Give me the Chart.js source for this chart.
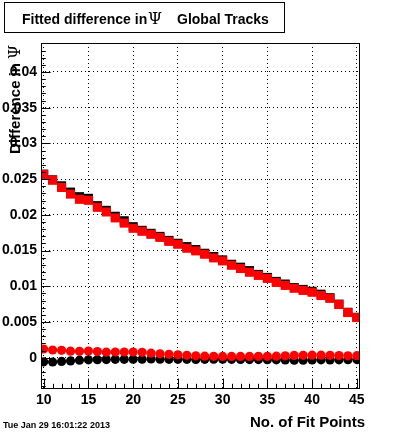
<!DOCTYPE html>
<html>
<head>
<meta charset="utf-8">
<script src="https://cdn.jsdelivr.net/npm/chart.js@4/dist/chart.umd.min.js"></script>
<style>
  html, body { margin: 0; padding: 0; background: #fff; }
  canvas { display: block; }
</style>
</head>
<body>
<canvas id="psiChart" width="400" height="433"></canvas>
<script>
const fitPoints = [10, 11, 12, 13, 14, 15, 16, 17, 18, 19, 20, 21, 22, 23, 24, 25, 26, 27,
                   28, 29, 30, 31, 32, 33, 34, 35, 36, 37, 38, 39, 40, 41, 42, 43, 44, 45];

// black squares
const psiDiffBlack = [0.02570, 0.02490, 0.02406, 0.02318, 0.02254, 0.02231, 0.02128, 0.02063, 0.01980,
                      0.01917, 0.01834, 0.01783, 0.01741, 0.01698, 0.01642, 0.01602, 0.01555, 0.01514,
                      0.01462, 0.01416, 0.01369, 0.01308, 0.01267, 0.01219, 0.01166, 0.01124, 0.01068,
                      0.01031, 0.00982, 0.00956, 0.00930, 0.00889, 0.00840, 0.00750, 0.00636, 0.00566];
// red squares
const psiDiffRed = [0.02565, 0.02485, 0.02383, 0.02290, 0.02217, 0.02203, 0.02105, 0.02040, 0.01957,
                    0.01884, 0.01811, 0.01769, 0.01727, 0.01684, 0.01628, 0.01588, 0.01532, 0.01495,
                    0.01448, 0.01397, 0.01355, 0.01294, 0.01248, 0.01196, 0.01152, 0.01110, 0.01054,
                    0.01012, 0.00972, 0.00942, 0.00916, 0.00870, 0.00831, 0.00744, 0.00632, 0.00562];
// black circles
const psiOffsetBlack = [-0.00058, -0.00060, -0.00052, -0.00045, -0.00035, -0.00030, -0.00028, -0.00026, -0.00022,
                        -0.00022, -0.00020, -0.00020, -0.00018, -0.00020, -0.00022, -0.00022, -0.00022, -0.00024,
                        -0.00022, -0.00020, -0.00020, -0.00022, -0.00024, -0.00026, -0.00026, -0.00028, -0.00030,
                        -0.00032, -0.00034, -0.00034, -0.00032, -0.00030, -0.00032, -0.00030, -0.00028, -0.00026];
// red circles
const psiOffsetRed = [0.00122, 0.00108, 0.00103, 0.00092, 0.00090, 0.00094, 0.00086, 0.00078, 0.00080,
                      0.00080, 0.00080, 0.00076, 0.00064, 0.00054, 0.00048, 0.00040, 0.00034, 0.00026,
                      0.00022, 0.00020, 0.00018, 0.00018, 0.00018, 0.00018, 0.00020, 0.00020, 0.00022,
                      0.00026, 0.00032, 0.00034, 0.00036, 0.00036, 0.00034, 0.00030, 0.00026, 0.00028];

const xTickValues = [10, 15, 20, 25, 30, 35, 40, 45];
const xTickLabels = ['10', '15', '20', '25', '30', '35', '40', '45'];
const yTickValues = [0, 0.005, 0.01, 0.015, 0.02, 0.025, 0.03, 0.035, 0.04];
const yTickLabels = ['0', '0.005', '0.01', '0.015', '0.02', '0.025', '0.03', '0.035', '0.04'];

const titleLeft = 'Fitted difference in';
const titleRight = 'Global Tracks';
const yTitle = 'Difference in';
const xTitle = 'No. of Fit Points';
const dateStamp = 'Tue Jan 29 16:01:22 2013';
const PSI = '\u03A8';

const FONT = '"Liberation Sans", Arial, Helvetica, sans-serif';

function pts(values) {
    return fitPoints.map((x, i) => ({ x: x, y: values[i] }));
}

function markerSet(label, values, color, style, radius) {
    return {
        label: label,
        data: pts(values),
        showLine: false,
        pointStyle: style,
        pointRadius: radius,
        pointHoverRadius: radius,
        pointBorderWidth: 0,
        backgroundColor: color,
        borderColor: color,
        clip: 0
    };
}

// ROOT-like frame, inward ticks, titles and time stamp
const rootDecor = {
    id: 'rootDecor',
    afterDraw(chart) {
        const { ctx, chartArea: a, scales: { x, y } } = chart;
        ctx.save();
        ctx.strokeStyle = '#000';
        ctx.lineWidth = 1;

        ctx.beginPath();
        for (let i = 10; i <= 45; i++) {
            const px = Math.round(x.getPixelForValue(i)) + 0.5;
            const len = i % 5 === 0 ? 10.4 : 5.2;
            ctx.moveTo(px, a.bottom);
            ctx.lineTo(px, a.bottom - len);
        }
        for (let i = -4; i <= 44; i++) {
            const py = Math.round(y.getPixelForValue(i / 1000)) + 0.5;
            const len = i % 5 === 0 ? 9.6 : 4.8;
            ctx.moveTo(a.left, py);
            ctx.lineTo(a.left + len, py);
        }
        ctx.stroke();

        ctx.strokeRect(Math.round(a.left) + 0.5, Math.round(a.top) + 0.5,
                       Math.round(a.right - a.left) - 1, Math.round(a.bottom - a.top) - 1);

        // title box
        ctx.fillStyle = '#fff';
        ctx.fillRect(4.5, 2.5, 280, 30);
        ctx.strokeRect(4.5, 2.5, 280, 30);
        ctx.fillStyle = '#000';
        ctx.textBaseline = 'alphabetic';
        ctx.textAlign = 'left';
        ctx.font = 'bold 14px ' + FONT;
        ctx.fillText(titleLeft, 22, 24);
        ctx.fillText(titleRight, 177, 24);
        ctx.font = '16px "DejaVu Serif", serif';
        ctx.textAlign = 'center';
        ctx.fillText(PSI, 155, 24);

        // y axis title
        ctx.save();
        ctx.translate(20, 45);
        ctx.rotate(-Math.PI / 2);
        ctx.textAlign = 'right';
        ctx.font = '16px "DejaVu Serif", serif';
        ctx.fillText(PSI, 0, 0);
        const psiW = ctx.measureText(PSI).width;
        ctx.font = 'bold 15px ' + FONT;
        ctx.fillText(yTitle, -psiW - 4, 0);
        ctx.restore();

        // x axis title
        ctx.textAlign = 'right';
        ctx.font = 'bold 15px ' + FONT;
        ctx.fillText(xTitle, 365, 427);

        // date stamp
        ctx.textAlign = 'left';
        ctx.font = 'bold 9px ' + FONT;
        ctx.fillText(dateStamp, 3, 428);
        ctx.restore();
    }
};

new Chart(document.getElementById('psiChart'), {
    type: 'scatter',
    data: {
        datasets: [
            markerSet('red squares', psiDiffRed, '#ff0000', 'rect', 6.4),
            markerSet('red circles', psiOffsetRed, '#ff0000', 'circle', 4.6),
            markerSet('black squares', psiDiffBlack, '#000000', 'rect', 6.4),
            markerSet('black circles', psiOffsetBlack, '#000000', 'circle', 4.6)
        ]
    },
    options: {
        responsive: false,
        animation: false,
        devicePixelRatio: 1,
        layout: {
            padding: { left: 0, top: 43, right: 40, bottom: 0 }
        },
        scales: {
            x: {
                type: 'linear',
                min: 9.7,
                max: 45.35,
                afterFit: scale => { scale.height = 44; },
                afterBuildTicks: scale => { scale.ticks = xTickValues.map(v => ({ value: v })); },
                ticks: {
                    color: '#000',
                    padding: 3,
                    maxRotation: 0,
                    font: { family: FONT, size: 14, weight: 'bold' },
                    callback: (value, index) => xTickLabels[index]
                },
                grid: {
                    color: '#000',
                    lineWidth: 1,
                    drawTicks: false
                },
                border: { display: false, dash: [1, 3] }
            },
            y: {
                type: 'linear',
                min: -0.00438,
                max: 0.04405,
                afterFit: scale => { scale.width = 41; },
                afterBuildTicks: scale => { scale.ticks = yTickValues.map(v => ({ value: v })); },
                ticks: {
                    color: '#000',
                    padding: 4,
                    font: { family: FONT, size: 14, weight: 'bold' },
                    callback: (value, index) => yTickLabels[index]
                },
                grid: {
                    color: '#000',
                    lineWidth: 1,
                    drawTicks: false
                },
                border: { display: false, dash: [1, 3] }
            }
        },
        plugins: {
            legend: { display: false },
            tooltip: { enabled: false },
            title: { display: false }
        }
    },
    plugins: [rootDecor]
});
</script>
</body>
</html>
